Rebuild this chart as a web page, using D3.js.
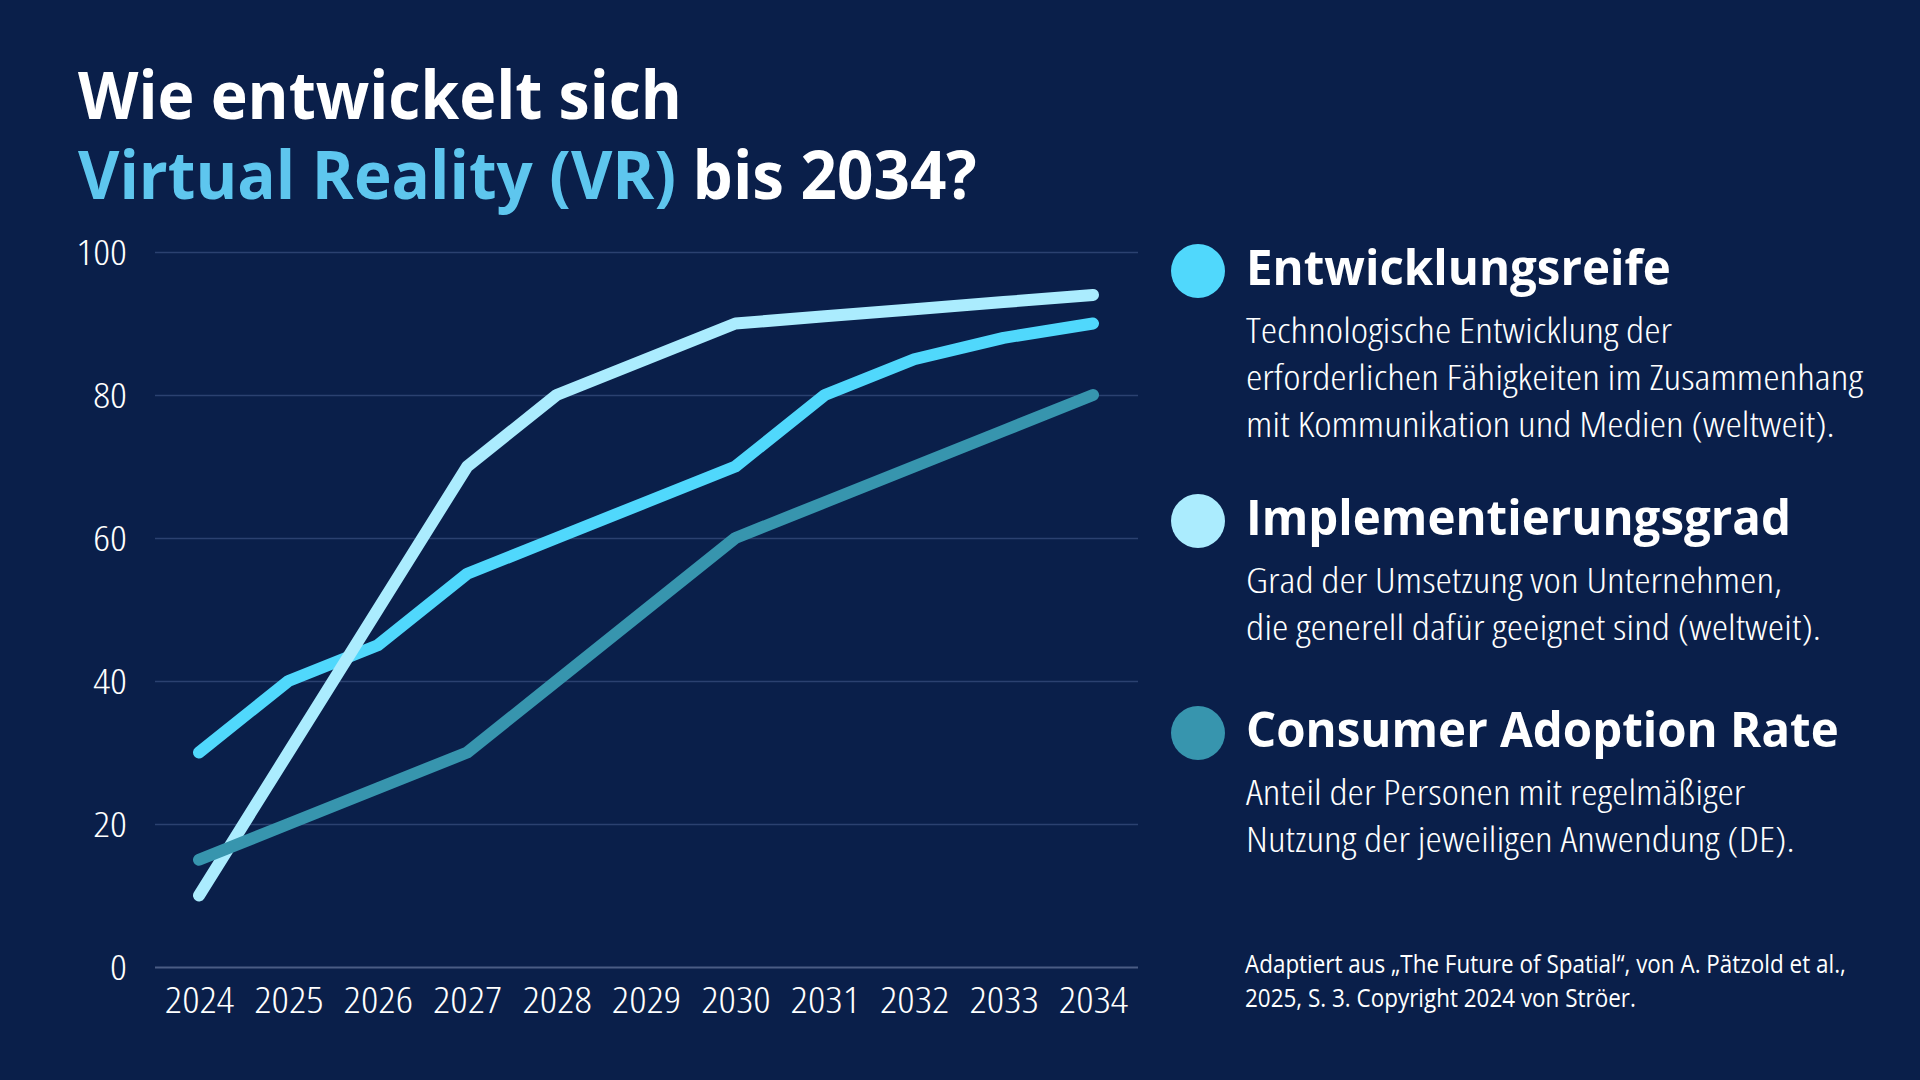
<!DOCTYPE html>
<html lang="de">
<head>
<meta charset="utf-8">
<script src="https://cdn.jsdelivr.net/npm/d3@7"></script>
<style>
  html, body { margin: 0; padding: 0; background: #0a1f4a; }
  svg { display: block; }
  text { font-family: "Open Sans", "Noto Sans", sans-serif; }
</style>
</head>
<body>
<svg id="chart" width="1920" height="1080"></svg>
<script>
// ---- data ----
const years = ["2024","2025","2026","2027","2028","2029","2030","2031","2032","2033","2034"];
const entwicklungsreife = [30, 40, 45, 55, 60, 65, 70, 80, 85, 88, 90];
const implementierungsgrad = [10, 30, 50, 70, 80, 85, 90, 91, 92, 93, 94];
const consumerAdoption = [15, 20, 25, 30, 40, 50, 60, 65, 70, 75, 80];
const yTicks = [0, 20, 40, 60, 80, 100];

const seriesNames = ["Entwicklungsreife", "Implementierungsgrad", "Consumer Adoption Rate"];
const seriesColors = ["#50d8fc", "#abecfe", "#3795ae"];
const seriesValues = [entwicklungsreife, implementierungsgrad, consumerAdoption];
const seriesDescriptions = [
  ["Technologische Entwicklung der", "erforderlichen Fähigkeiten im Zusammenhang", "mit Kommunikation und Medien (weltweit)."],
  ["Grad der Umsetzung von Unternehmen,", "die generell dafür geeignet sind (weltweit)."],
  ["Anteil der Personen mit regelmäßiger", "Nutzung der jeweiligen Anwendung (DE)."]
];
const titleLine1 = "Wie entwickelt sich";
const titleHighlight = "Virtual Reality (VR)";
const titleRest = " bis 2034?";
const sourceLines = ["Adaptiert aus „The Future of Spatial“, von A. Pätzold et al.,", "2025, S. 3. Copyright 2024 von Ströer."];

// ---- layout ----
const svg = d3.select("#chart");
svg.append("rect").attr("width", 1920).attr("height", 1080).attr("fill", "#0a1f4a");

// pick a font width (font-stretch) that best matches the reference text width
function fit(weight, size, str, target) {
  let best = null;
  for (let s = 75; s <= 100; s += 2.5) {
    const t = svg.append("text").style("font-weight", weight).style("font-stretch", s + "%")
      .attr("font-size", size).text(str);
    const w = t.node().getComputedTextLength();
    t.remove();
    if (!best || Math.abs(w - target) < Math.abs(best.w - target)) best = { s, w };
  }
  return { weight, size, stretch: best.s + "%", k: target / best.w };
}
const fTitle1 = fit(700, 66, titleLine1, 604);
const fTitle2 = fit(700, 66, titleHighlight + titleRest, 899);
const fHead = fit(700, 49, seriesNames[0], 425);
const fBody = fit(300, 35, seriesDescriptions[0][1], 617);
const fSrc = fit(400, 25, sourceLines[0], 601);

function styled(sel, F, size) {
  return sel.style("font-weight", F.weight).style("font-stretch", F.stretch).attr("font-size", size || F.size);
}
function place(xp, yp, F) { return `translate(${xp},${yp}) scale(${F.k},1)`; }

const x = d3.scalePoint().domain(years).range([199, 1093]);
const y = d3.scaleLinear().domain([0, 100]).range([967, 252]);
const gridX0 = 155, gridX1 = 1138;

// title
styled(svg.append("text"), fTitle1).attr("fill", "#ffffff")
  .attr("transform", place(78, 119, fTitle1)).text(titleLine1);
const t2 = styled(svg.append("text"), fTitle2).attr("transform", place(78, 199, fTitle2));
t2.append("tspan").attr("fill", "#5ec6ee").text(titleHighlight);
t2.append("tspan").attr("fill", "#ffffff").text(titleRest);

// grid lines via axis
const yAxis = d3.axisLeft(y).tickValues(yTicks).tickSize(-(gridX1 - gridX0)).tickFormat(d3.format("d"));
const gy = svg.append("g").attr("transform", `translate(${gridX0},0)`).call(yAxis);
gy.select(".domain").remove();
gy.selectAll(".tick line").attr("stroke", d => d === 0 ? "#4a5c84" : "#2b4170").attr("stroke-width", d => d === 0 ? 2 : 1.5);
styled(gy.selectAll(".tick text"), fBody, 35).attr("fill", "#ffffff")
  .attr("x", 0).attr("dy", 0).attr("text-anchor", "end")
  .attr("transform", place(-28, 12.5, fBody));

const xAxis = d3.axisBottom(x).tickSize(0);
const gx = svg.append("g").attr("transform", `translate(0,${y(0)})`).call(xAxis);
gx.select(".domain").remove();
styled(gx.selectAll(".tick text"), fBody, 36).attr("fill", "#ffffff")
  .attr("y", 0).attr("dy", 0).attr("text-anchor", "middle")
  .attr("transform", place(0, 46, fBody));
svg.selectAll("g").attr("font-family", null).attr("font-size", null);

// lines (Consumer Adoption Rate drawn on top)
const line = d3.line().x((d, i) => x(years[i])).y(d => y(d));
seriesValues.forEach((vals, k) => {
  svg.append("path").datum(vals).attr("d", line).attr("fill", "none")
    .attr("stroke", seriesColors[k]).attr("stroke-width", 12)
    .attr("stroke-linecap", "round").attr("stroke-linejoin", "round");
});

// legend
const legendBaselines = [285, 535, 747];
seriesNames.forEach((name, k) => {
  const by = legendBaselines[k];
  svg.append("circle").attr("cx", 1198).attr("cy", by - 14).attr("r", 27).attr("fill", seriesColors[k]);
  styled(svg.append("text"), fHead).attr("fill", "#ffffff")
    .attr("transform", place(1246, by, fHead)).text(name);
  seriesDescriptions[k].forEach((ln, j) => {
    styled(svg.append("text"), fBody).attr("fill", "#ffffff")
      .attr("transform", place(1246, by + 58 + j * 47, fBody)).text(ln);
  });
});

// source
sourceLines.forEach((ln, j) => {
  styled(svg.append("text"), fSrc).attr("fill", "#ffffff")
    .attr("transform", place(1245, 973 + j * 34, fSrc)).text(ln);
});
</script>
</body>
</html>
